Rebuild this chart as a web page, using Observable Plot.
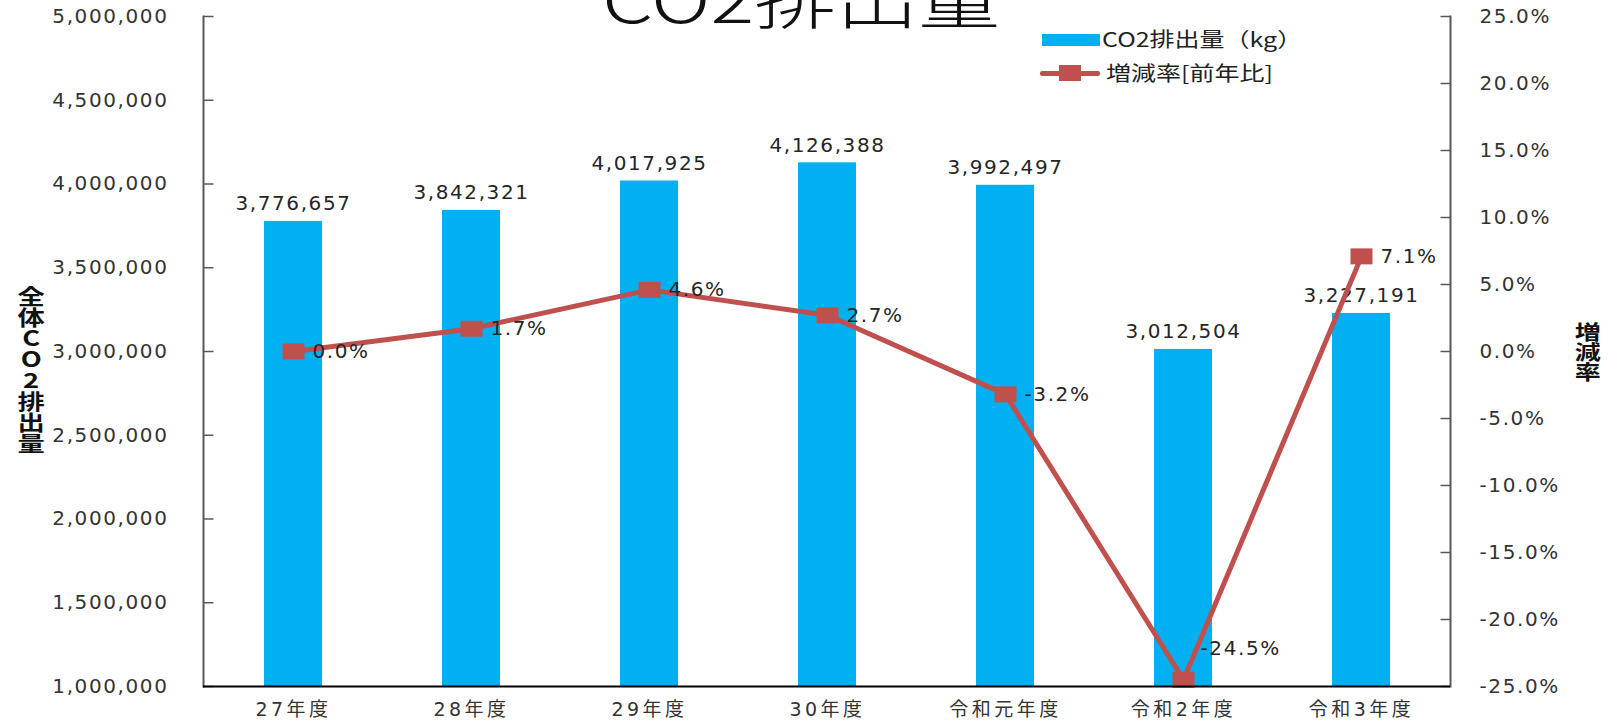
<!DOCTYPE html>
<html>
<head>
<meta charset="utf-8">
<script src="https://cdn.jsdelivr.net/npm/d3@7"></script>
<script src="https://cdn.jsdelivr.net/npm/@observablehq/plot@0.6"></script>
<style>
  html, body { margin: 0; padding: 0; background: #fff; overflow: hidden; }
  #wrap { position: relative; width: 1610px; height: 728px; overflow: hidden; }
  #wrap svg { position: absolute; left: 0; top: 0; }
  .ov { position: absolute; white-space: nowrap; font-family: "Noto Sans CJK JP", "DejaVu Sans", sans-serif; color: #222; }
  #title { left: -4px; width: 1610px; top: -36px; text-align: center; font-size: 63px; line-height: 1; font-weight: 300; color: #111; transform: scaleX(1.3); transform-origin: 805px 0; }
  .legtxt { font-size: 20px; line-height: 1; transform: scaleX(1.25); transform-origin: 0 50%; }
  .vtitle { writing-mode: vertical-rl; text-orientation: upright; font-weight: bold; line-height: 1; transform: scaleX(1.3); color: #111; }
  g[aria-label="x-axis tick label"] text { letter-spacing: 3.5px; }
</style>
</head>
<body>
<div id="wrap"></div>
<script>
// ---- data ----
const years = ["27年度", "28年度", "29年度", "30年度", "令和元年度", "令和2年度", "令和3年度"];
const co2 = [3776657, 3842321, 4017925, 4126388, 3992497, 3012504, 3227191];
const rate = [0.0, 1.7, 4.6, 2.7, -3.2, -24.5, 7.1];
const leftDomain = [1000000, 5000000];
const rightDomain = [-25, 25];
const leftTicks = [1000000, 1500000, 2000000, 2500000, 3000000, 3500000, 4000000, 4500000, 5000000];
const rightTicks = [-25, -20, -15, -10, -5, 0, 5, 10, 15, 20, 25];
const seriesNames = ["CO2排出量（kg）", "増減率[前年比]"];
const titleText = "CO2排出量";
const leftTitle = "全体CO2排出量";
const rightTitle = "増減率";

// ---- build ----
const data = years.map((y, i) => ({year: y, co2: co2[i], rate: rate[i]}));
const toLeft = r => leftDomain[0] + (r - rightDomain[0]) / (rightDomain[1] - rightDomain[0]) * (leftDomain[1] - leftDomain[0]);
const fromLeft = v => rightDomain[0] + (v - leftDomain[0]) / (leftDomain[1] - leftDomain[0]) * (rightDomain[1] - rightDomain[0]);
const fmt = d3.format(",");
const pct = r => r.toFixed(1) + "%";

const BAR = "#00B0F0", LINE = "#C0504D", AXIS = "#595959";
const markerSym = {draw(ctx) { ctx.rect(-11, -8, 22, 16); }};
const tickRight = {draw(ctx) { ctx.moveTo(0, 0); ctx.lineTo(10, 0); }};
const tickLeft = {draw(ctx) { ctx.moveTo(0, 0); ctx.lineTo(-10, 0); }};

const chart = Plot.plot({
  width: 1610,
  height: 728,
  marginTop: 16,
  marginBottom: 42,
  marginLeft: 203,
  marginRight: 160,
  x: {domain: years, padding: 0, label: null},
  y: {domain: leftDomain, label: null},
  style: {
    fontFamily: "'DejaVu Sans', 'Noto Sans CJK JP', sans-serif",
    fontSize: "20px",
    letterSpacing: "1.6px",
    color: "#333",
    background: "transparent",
    overflow: "visible"
  },
  marks: [
    Plot.barY(data, {x: "year", y1: () => leftDomain[0], y2: "co2", fill: BAR, insetLeft: 60, insetRight: 60}),
    Plot.text(data, {x: "year", y: "co2", text: d => fmt(d.co2), lineAnchor: "bottom", dy: -11, fill: "#262626", fontSize: 20}),
    Plot.line(data, {x: "year", y: d => toLeft(d.rate), stroke: LINE, strokeWidth: 5}),
    Plot.dot(data, {x: "year", y: d => toLeft(d.rate), symbol: markerSym, fill: LINE, stroke: "none"}),
    Plot.text(data.filter(d => d.rate > -20), {x: "year", y: d => toLeft(d.rate), text: d => pct(d.rate), textAnchor: "start", dx: 19, fill: "#262626", fontSize: 20}),
    Plot.text(data.filter(d => d.rate <= -20), {x: "year", y: d => toLeft(d.rate), text: d => pct(d.rate), textAnchor: "start", dx: 17, dy: -31, fill: "#262626", fontSize: 20}),
    Plot.axisY({ticks: leftTicks, tickSize: 0, tickPadding: 35, tickFormat: fmt, label: null}),
    Plot.axisY({anchor: "right", ticks: rightTicks.map(toLeft), tickSize: 0, tickPadding: 29, tickFormat: v => pct(fromLeft(v)), label: null}),
    Plot.dot(leftTicks, {y: d => d, frameAnchor: "left", symbol: tickRight, stroke: AXIS, strokeWidth: 1.5, fill: "none"}),
    Plot.dot(rightTicks.map(toLeft), {y: d => d, frameAnchor: "right", symbol: tickLeft, stroke: AXIS, strokeWidth: 1.5, fill: "none"}),
    Plot.frame({anchor: "left", stroke: AXIS, strokeWidth: 2}),
    Plot.frame({anchor: "right", stroke: AXIS, strokeWidth: 2}),
    Plot.ruleY([leftDomain[0]], {stroke: "#000", strokeWidth: 2}),
    Plot.axisX({tickSize: 0, tickPadding: 16, fontSize: 19, label: null})
  ]
});

const wrap = document.getElementById("wrap");
wrap.appendChild(chart);

function ov(html, cls, css) {
  const d = document.createElement("div");
  d.className = "ov " + (cls || "");
  d.textContent = html;
  Object.assign(d.style, css || {});
  wrap.appendChild(d);
  return d;
}
// title
const t = ov(titleText, "", {}); t.id = "title";
// legend
ov("", "", {left: "1042px", top: "34px", width: "58px", height: "12px", background: BAR});
ov("", "", {left: "1040px", top: "71px", width: "60px", height: "5px", background: LINE, borderRadius: "2px"});
ov("", "", {left: "1059px", top: "65px", width: "22px", height: "16px", background: LINE});
ov(seriesNames[0], "legtxt", {left: "1102px", top: "29px"});
ov(seriesNames[1], "legtxt", {left: "1106px", top: "63px"});
// axis titles
ov(leftTitle, "vtitle", {left: "20px", top: "286px", fontSize: "21px"});
ov(rightTitle, "vtitle", {left: "1577px", top: "322px", fontSize: "20px"});
</script>
</body>
</html>
